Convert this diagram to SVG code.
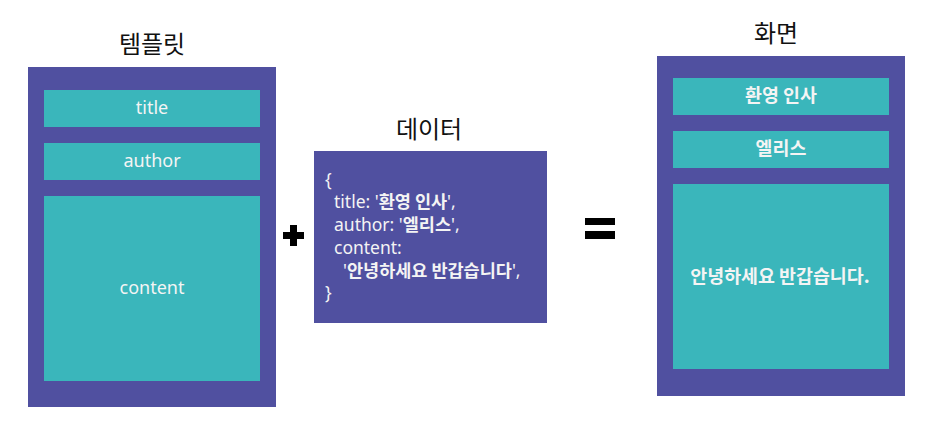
<svg xmlns="http://www.w3.org/2000/svg" width="937" height="438" viewBox="0 0 937 438">
<style>
.outer{fill:#5050A0}
.cell{fill:#3AB6BB}
.head{font-family:"Noto Sans CJK KR","Noto Sans",sans-serif;font-size:24px;fill:#111;text-anchor:middle}
.lbl{font-family:"Noto Sans","Noto Sans CJK KR",sans-serif;font-size:18px;fill:#F4F4F4;text-anchor:middle}
.blbl{font-family:"Noto Sans CJK KR","Noto Sans",sans-serif;font-size:18.4px;font-weight:bold;fill:#F4F4F4;text-anchor:middle}
.code{font-family:"Noto Sans","Noto Sans CJK KR",sans-serif;font-size:17.5px;fill:#F4F4F4}
.b{font-family:"Noto Sans CJK KR",sans-serif;font-weight:bold}
</style>
<rect width="937" height="438" fill="#fff"/>
<g id="template">
<text class="head" x="152" y="53">템플릿</text>
<rect class="outer" x="28" y="67" width="248" height="340"/>
<rect class="cell" x="44" y="90" width="216" height="37"/>
<text class="lbl" x="152" y="114">title</text>
<rect class="cell" x="44" y="143" width="216" height="37"/>
<text class="lbl" x="152" y="167">author</text>
<rect class="cell" x="44" y="196" width="216" height="185"/>
<text class="lbl" x="152" y="294">content</text>
</g>
<g id="plus">
<rect x="283" y="232" width="21" height="7" fill="#000"/>
<rect x="290" y="225" width="7" height="21" fill="#000"/>
</g>
<g id="data">
<text class="head" x="429" y="138">데이터</text>
<rect class="outer" x="314" y="151" width="233" height="172"/>
<text class="code" x="325" y="186">{</text>
<text class="code" x="334" y="208">title: '<tspan class="b">환영 인사</tspan>',</text>
<text class="code" x="334" y="231">author: '<tspan class="b">엘리스</tspan>',</text>
<text class="code" x="334" y="254">content:</text>
<text class="code" x="343" y="277">'<tspan class="b">안녕하세요 반갑습니다</tspan>',</text>
<text class="code" x="325" y="299">}</text>
</g>
<g id="equals">
<rect x="585" y="218" width="30" height="7" fill="#000"/>
<rect x="585" y="231" width="30" height="8" fill="#000"/>
</g>
<g id="screen">
<text class="head" x="776" y="42">화면</text>
<rect class="outer" x="657" y="56" width="248" height="340"/>
<rect class="cell" x="673" y="78" width="216" height="37"/>
<text class="blbl" x="781" y="102">환영 인사</text>
<rect class="cell" x="673" y="131" width="216" height="37"/>
<text class="blbl" x="781" y="155">엘리스</text>
<rect class="cell" x="673" y="184" width="216" height="185"/>
<text class="blbl" x="780" y="283">안녕하세요 반갑습니다.</text>
</g>
</svg>
